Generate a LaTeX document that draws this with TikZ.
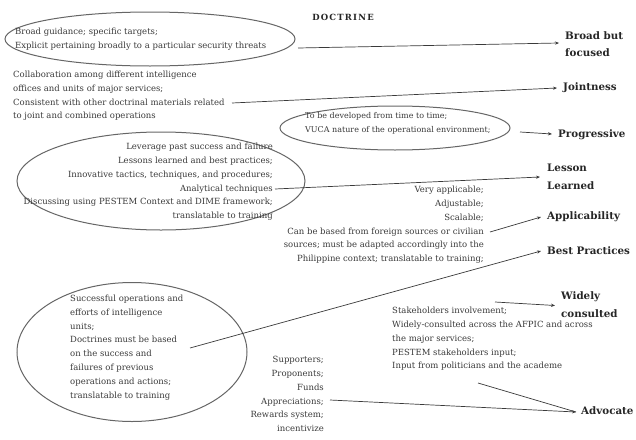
\documentclass[tikz,border=0pt]{standalone}
\usepackage{fontspec}
\setmainfont{DejaVu Serif}
\usetikzlibrary{shapes.geometric,arrows.meta}
\definecolor{ink}{HTML}{3A3A3A}
\definecolor{rim}{HTML}{666666}
\tikzset{
  body/.style={font=\fontsize{8.5}{13.8}\selectfont, text=ink, inner sep=0pt},
  bodyl/.style={body, align=left, anchor=west},
  bodyr/.style={body, align=right, anchor=east},
  head/.style={font=\fontsize{10.3}{17.5}\selectfont\bfseries, text=black!85, inner sep=0pt, align=left, anchor=west},
  oval/.style={draw=rim, line width=1pt, ellipse, inner sep=0pt},
  link/.style={draw=ink, line width=0.7pt, -{Stealth[length=4pt,width=3.2pt]}},
  plainlink/.style={draw=ink, line width=0.7pt}
}
\begin{document}
\begin{tikzpicture}[x=1pt,y=-1pt]
\useasboundingbox (0,0) rectangle (636,439);
\fill[white] (0,0) rectangle (636,439);

% title
\node[inner sep=0pt, font=\fontsize{8.5}{10}\selectfont\bfseries\addfontfeature{LetterSpace=14}, text=black!85] (title) at (343,17) {DOCTRINE};

% outlines
\node[oval, minimum width=290, minimum height=54] (o1) at (150,39) {};
\node[oval, minimum width=230, minimum height=44] (o3) at (395,128) {};
\node[oval, minimum width=288, minimum height=98] (o4) at (161,181) {};
\node[oval, minimum width=230, minimum height=139] (o5) at (132,352) {};

% descriptive texts
\node[bodyl] (t1) at (15,39.5) {Broad guidance; specific targets;\\Explicit pertaining broadly to a particular security threats};
\node[bodyl] (t2) at (13,96) {Collaboration among different intelligence\\offices and units of major services;\\Consistent with other doctrinal materials related\\to joint and combined operations};
\node[bodyl, font=\fontsize{8}{13.6}\selectfont] (t3) at (305,123.5) {To be developed from time to time;\\VUCA nature of the operational environment;};
\node[bodyr] (t4) at (273,182) {Leverage past success and failure\\Lessons learned and best practices;\\Innovative tactics, techniques, and procedures;\\Analytical techniques\\Discussing using PESTEM Context and DIME framework;\\translatable to training};
\node[bodyr] (t5) at (484,225) {Very applicable;\\Adjustable;\\Scalable;\\Can be based from foreign sources or civilian\\sources; must be adapted accordingly into the\\Philippine context; translatable to training;};
\node[bodyl] (t6) at (70,347.5) {Successful operations and\\efforts of intelligence\\units;\\Doctrines must be based\\on the success and\\failures of previous\\operations and actions;\\translatable to training};
\node[bodyl] (t7) at (392,339) {Stakeholders involvement;\\Widely-consulted across the AFPIC and across\\the major services;\\PESTEM stakeholders input;\\Input from politicians and the academe};
\node[bodyr] (t8) at (324,394) {Supporters;\\Proponents;\\Funds\\Appreciations;\\Rewards system;\\incentivize};

% qualities
\node[head] (h1) at (565,44) {Broad but\\focused};
\node[head] (h2) at (563,88) {Jointness};
\node[head] (h3) at (558,135) {Progressive};
\node[head] (h4) at (547,177) {Lesson\\Learned};
\node[head] (h5) at (547,217) {Applicability};
\node[head] (h6) at (547,251) {Best Practices};
\node[head] (h7) at (561,304.5) {Widely\\consulted};
\node[head] (h8) at (581,411) {Advocate};

% connector starts
\coordinate (s1) at (298,48);
\coordinate (s2) at (232,103);
\coordinate (s3) at (520,132);
\coordinate (s4) at (275,189);
\coordinate (s5) at (490,232);
\coordinate (s6) at (190,348);
\coordinate (s7) at (495,302);
\coordinate (s8) at (330,400);
\coordinate (s9) at (478,383);

% connectors
\draw[link] (s1) -- ([xshift=-6pt,yshift=1pt]h1.west);
\draw[link] (s2) -- ([xshift=-6pt]h2.west);
\draw[link] (s3) -- ([xshift=-6pt,yshift=1pt]h3.west);
\draw[link] (s4) -- ([xshift=-7pt]h4.west);
\draw[link] (s5) -- ([xshift=-6pt]h5.west);
\draw[link] (s6) -- ([xshift=-6pt]h6.west);
\draw[link] (s7) -- ([xshift=-6pt,yshift=-1pt]h7.west);
\draw[link] (s8) -- ([xshift=-5pt,yshift=-1pt]h8.west);
\draw[plainlink] (s9) -- ([xshift=-5pt,yshift=-1pt]h8.west);
\end{tikzpicture}
\end{document}
